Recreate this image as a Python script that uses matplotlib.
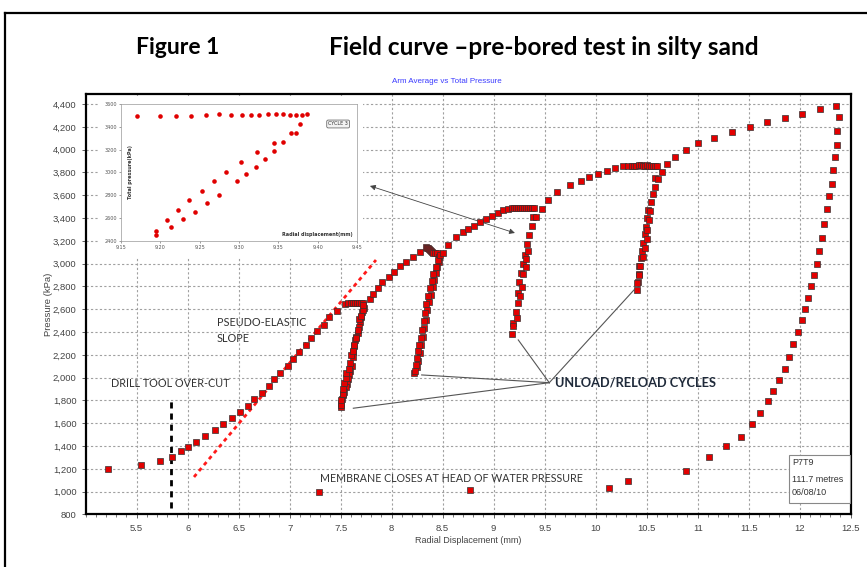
import matplotlib
matplotlib.use('Agg')
import matplotlib.pyplot as plt
import numpy as np
from matplotlib.patches import Rectangle
from matplotlib.lines import Line2D
from matplotlib.ticker import MultipleLocator, FuncFormatter

# ---- main curve: radial displacement (mm) / pressure (kPa) ----
load1_x = [5.22, 5.54, 5.73, 5.85, 5.93, 6.00, 6.08, 6.17, 6.27, 6.35, 6.43, 6.51, 6.59, 6.65,
           6.73, 6.80, 6.85, 6.91, 6.98, 7.03, 7.09, 7.16, 7.21, 7.27, 7.34, 7.39, 7.46, 7.54]
load1_p = [1202, 1232, 1269, 1307, 1354, 1395, 1439, 1486, 1539, 1591, 1644, 1699, 1752, 1813,
           1863, 1927, 1986, 2041, 2103, 2161, 2225, 2289, 2348, 2407, 2465, 2530, 2585, 2646]

cyc1_x = [7.57, 7.60, 7.62, 7.64, 7.66, 7.68, 7.70, 7.72,
          7.728, 7.706, 7.696, 7.689, 7.676, 7.667, 7.650, 7.643, 7.633, 7.624, 7.618, 7.608,
          7.591, 7.584, 7.572, 7.565, 7.549, 7.532, 7.520, 7.513, 7.503, 7.500,
          7.502, 7.508, 7.518, 7.525, 7.534, 7.551, 7.557, 7.577, 7.587, 7.606, 7.616, 7.630,
          7.648, 7.667, 7.683, 7.696, 7.716, 7.722]
cyc1_p = [2652, 2655, 2656, 2657, 2657, 2656, 2655, 2652,
          2609, 2579, 2530, 2491, 2442, 2395, 2360, 2331, 2278, 2228, 2184, 2103,
          2059, 2024, 1986, 1945, 1916, 1877, 1848, 1810, 1775, 1746,
          1760, 1805, 1857, 1898, 1951, 1995, 2039, 2080, 2127, 2200, 2235, 2290,
          2345, 2419, 2512, 2541, 2594, 2638]

load2_x = [7.79, 7.82, 7.87, 7.91, 7.97, 8.02, 8.08, 8.14, 8.21, 8.28, 8.34]
load2_p = [2688, 2734, 2787, 2837, 2881, 2930, 2980, 3012, 3061, 3100, 3144]

cyc2_x = [8.35, 8.36, 8.37, 8.38, 8.39, 8.40, 8.41, 8.42, 8.447, 8.467,
          8.467, 8.445, 8.430, 8.418, 8.405, 8.390, 8.370, 8.345, 8.335, 8.318, 8.310, 8.290,
          8.275, 8.258, 8.245, 8.219,
          8.225, 8.235, 8.250, 8.262, 8.270, 8.285, 8.300, 8.313, 8.322, 8.340, 8.360, 8.380,
          8.395, 8.410, 8.430, 8.450, 8.470, 8.500]
cyc2_p = [3140, 3134, 3128, 3120, 3112, 3104, 3097, 3090, 3091, 3061,
          3018, 2974, 2916, 2857, 2798, 2725, 2667, 2590, 2506, 2433, 2360, 2290,
          2215, 2150, 2096, 2039,
          2060, 2115, 2170, 2230, 2287, 2345, 2420, 2495, 2570, 2650, 2720, 2790,
          2850, 2910, 2970, 3030, 3075, 3097]

load3_x = [8.555, 8.630, 8.695, 8.751, 8.807, 8.866, 8.922, 8.980, 9.039, 9.094, 9.143]
load3_p = [3164, 3232, 3275, 3302, 3333, 3363, 3395, 3418, 3447, 3471, 3478]

cyc3_x = [9.18, 9.20, 9.22, 9.24, 9.26, 9.28, 9.30, 9.32, 9.34, 9.36, 9.38, 9.40,
          9.382, 9.330, 9.307, 9.284, 9.268, 9.251, 9.235, 9.235, 9.219, 9.192, 9.192, 9.176,
          9.225, 9.258, 9.275, 9.290, 9.317, 9.317, 9.339, 9.349, 9.373, 9.415]
cyc3_p = [3484, 3486, 3487, 3488, 3489, 3490, 3490, 3491, 3491, 3492, 3492, 3492,
          3407, 3170, 3076, 2997, 2921, 2842, 2746, 2653, 2579, 2482, 2453, 2383,
          2526, 2717, 2793, 2910, 2974, 3039, 3114, 3252, 3331, 3407]

load4_x = [9.471, 9.535, 9.624, 9.748, 9.853, 9.937, 10.026, 10.108, 10.189, 10.265, 10.32]
load4_p = [3482, 3559, 3629, 3690, 3728, 3763, 3784, 3813, 3842, 3860, 3856]

cyc4_x = [10.36, 10.38, 10.40, 10.42, 10.44, 10.46, 10.48, 10.50, 10.52, 10.54, 10.56, 10.58, 10.60,
          10.581, 10.559, 10.516, 10.506, 10.493, 10.483, 10.461, 10.451, 10.441, 10.427, 10.421,
          10.412, 10.402,
          10.408, 10.421, 10.434, 10.461, 10.483, 10.500, 10.506, 10.526, 10.532, 10.542, 10.581,
          10.608, 10.653]
cyc4_p = [3859, 3860, 3860, 3861, 3861, 3860, 3860, 3861, 3860, 3860, 3859, 3860, 3858,
          3749, 3609, 3471, 3398, 3325, 3258, 3184, 3114, 3047, 2980, 2910,
          2842, 2769,
          2828, 2901, 2980, 3056, 3135, 3217, 3296, 3383, 3465, 3544, 3676,
          3743, 3802]

load5_x = [10.702, 10.777, 10.882, 11.006, 11.163, 11.339, 11.513, 11.683, 11.853, 12.026,
           12.202, 12.356]
load5_p = [3875, 3933, 3997, 4056, 4103, 4155, 4202, 4240, 4278, 4316, 4354, 4386]

unload_x = [12.388, 12.369, 12.363, 12.346, 12.329, 12.314, 12.287, 12.265, 12.241, 12.218,
            12.192, 12.167, 12.143, 12.111, 12.082, 12.055, 12.026, 11.980, 11.937, 11.895,
            11.853, 11.800, 11.741, 11.689, 11.614, 11.529, 11.421, 11.282, 11.114, 10.885,
            10.317, 10.130, 8.768, 7.284]
unload_p = [4287, 4164, 4041, 3933, 3819, 3702, 3596, 3477, 3348, 3225,
            3109, 3000, 2901, 2804, 2702, 2605, 2506, 2398, 2293, 2184,
            2079, 1977, 1886, 1793, 1693, 1591, 1477, 1398, 1302, 1184,
            1094, 1034, 1015, 997]

# pseudo-elastic slope and drill over-cut guide lines
slope_x = [6.062, 7.846]
slope_p = [1129, 3032]
overcut_x = [5.839, 5.839]
overcut_p = [857, 1798]

# ---- inset: cycle 3 detail ----
ins_top_x = [9.170, 9.199, 9.220, 9.239, 9.258, 9.275, 9.290, 9.304, 9.315, 9.326, 9.337,
             9.347, 9.356, 9.365, 9.373, 9.380, 9.387]
ins_top_p = [3494, 3497, 3497, 3497, 3502, 3508, 3505, 3505, 3502, 3502, 3511,
             3508, 3508, 3505, 3505, 3505, 3508]
ins_loop_x = [9.195, 9.195, 9.209, 9.214, 9.222, 9.229, 9.237, 9.244, 9.253, 9.259, 9.268,
              9.274, 9.284, 9.298, 9.302, 9.309, 9.323, 9.321, 9.333, 9.344, 9.344, 9.356,
              9.366, 9.373, 9.378]
ins_loop_p = [2491, 2456, 2583, 2525, 2669, 2591, 2755, 2657, 2841, 2729, 2928,
              2801, 3008, 2922, 3094, 2985, 3178, 3051, 3120, 3192, 3261, 3267,
              3344, 3344, 3425]

yticks = list(range(800, 4401, 200))
xticks = [5.5, 6, 6.5, 7, 7.5, 8, 8.5, 9, 9.5, 10, 10.5, 11, 11.5, 12, 12.5]

fig = plt.figure(figsize=(8.67, 5.67), dpi=100)
ax = fig.add_axes([0.0988, 0.0926, 0.8824, 0.7416])

pt = dict(ls='none', marker='s', ms=3.7, mfc='#e30000', mec='#333333', mew=0.5, zorder=3)
for xs, ps in [(load1_x, load1_p), (cyc1_x, cyc1_p), (load2_x, load2_p), (cyc2_x, cyc2_p),
               (load3_x, load3_p), (cyc3_x, cyc3_p), (load4_x, load4_p), (cyc4_x, cyc4_p),
               (load5_x, load5_p), (unload_x, unload_p)]:
    ax.plot(xs, ps, **pt)

ax.plot(slope_x, slope_p, color='#ff1a1a', lw=2.0, ls=(0, (1.4, 1.4)), zorder=2)
ax.plot(overcut_x, overcut_p, color='black', lw=2.0, ls=(0, (2.2, 1.8)), zorder=2)

ax.set_xlim(5, 12.5)
ax.set_ylim(800, 4488)
ax.set_xticks(xticks)
ax.set_yticks(yticks)
ax.xaxis.set_minor_locator(MultipleLocator(0.1))
ax.xaxis.set_major_formatter(FuncFormatter(lambda v, p: '%g' % v))
ax.yaxis.set_major_formatter(FuncFormatter(lambda v, p: '{:,.0f}'.format(v)))
ax.tick_params(axis='both', labelsize=6.8, colors='#444444', length=3, width=0.6)
ax.tick_params(axis='x', which='minor', length=2, width=0.5, colors='#444444')
for lab in ax.get_xticklabels() + ax.get_yticklabels():
    lab.set_family('Liberation Sans')
ax.grid(True, ls=(0, (2, 2)), color='#a0a0a0', lw=0.8)
for s in ax.spines.values():
    s.set_linewidth(1.6)
    s.set_color('black')

# annotations
lato = 'Lato'
ax.text(6.287, 2480, 'PSEUDO-ELASTIC', fontsize=7.8, color='#333333', family=lato, va='center')
ax.text(6.287, 2348, 'SLOPE', fontsize=7.8, color='#333333', family=lato, va='center')
ax.text(5.248, 1945, 'DRILL TOOL OVER-CUT', fontsize=7.8, color='#333333', family=lato,
        va='center')
ax.text(7.297, 1120, 'MEMBRANE CLOSES AT HEAD OF WATER PRESSURE', fontsize=7.7, color='#333333',
        family=lato, va='center')
ax.text(9.60, 1954, 'UNLOAD/RELOAD CYCLES', fontsize=9.2, color='#1f2a3a', family=lato,
        fontweight='bold', va='center')

hub = (9.545, 1956)
for tx, tp in [(7.624, 1732), (8.294, 2024), (9.241, 2331), (10.375, 2769)]:
    ax.plot([hub[0], tx], [hub[1], tp], color='#555555', lw=0.8, zorder=2)

ax.annotate('', xy=(9.208, 3269), xytext=(7.787, 3682),
            arrowprops=dict(arrowstyle='<|-|>', color='#444444', lw=0.6,
                            mutation_scale=8, shrinkA=0, shrinkB=0), zorder=2)

# info box
ax.add_patch(Rectangle((11.90, 901), 0.59, 421, fc='white', ec='#888888', lw=0.8, zorder=4))
for txt, yp in [('P7T9', 1252), ('111.7 metres', 1111), ('06/08/10', 989)]:
    ax.text(11.925, yp, txt, fontsize=6.5, family='Liberation Sans', color='#333333',
            va='center', zorder=5)

# titles and axis labels
fig.text(0.2047, 0.917, 'Figure 1', ha='center', va='center', fontsize=16.5,
         fontweight='bold', family=lato)
fig.text(0.627, 0.917, 'Field curve \u2013pre-bored test in silty sand', ha='center',
         va='center', fontsize=17.6, fontweight='bold', family=lato)
fig.text(0.5156, 0.8554, 'Arm Average vs Total Pressure', ha='center', va='center',
         fontsize=5.8, color='#3b3bff', family='Liberation Sans')
fig.text(0.0554, 0.4638, 'Pressure (kPa)', rotation=90, ha='center', va='center',
         fontsize=6.8, color='#444444', family='Liberation Sans')
fig.text(0.54, 0.0459, 'Radial Displacement (mm)', ha='center', va='center',
         fontsize=6.5, color='#444444', family='Liberation Sans')

# outer frame
fig.add_artist(Line2D([5 / 867, 5 / 867], [0, 1 - 13 / 567], transform=fig.transFigure,
                      color='black', lw=1.6))
fig.add_artist(Line2D([5 / 867, 1], [1 - 13 / 567, 1 - 13 / 567], transform=fig.transFigure,
                      color='black', lw=1.6))

# inset
bg = Rectangle((98 / 867, (567 - 257) / 567), 265 / 867, 161 / 567,
               transform=fig.transFigure, fc='white', ec='none', zorder=1)
fig.add_artist(bg)
axin = fig.add_axes([0.1396, 0.5750, 0.2722, 0.2416])
axin.set_zorder(2)
axin.plot(ins_top_x, ins_top_p, ls='none', marker='o', ms=3.3, mfc='#e00000', mec='none')
axin.plot(ins_loop_x, ins_loop_p, ls='none', marker='o', ms=3.3, mfc='#e00000', mec='none')
axin.set_xlim(9.15, 9.45)
axin.set_ylim(2400, 3600)
axin.set_xticks(np.arange(9.15, 9.451, 0.05))
axin.set_yticks(range(2400, 3601, 200))
axin.xaxis.set_major_formatter(FuncFormatter(lambda v, p: '%.2f' % v))
axin.tick_params(labelsize=3.5, colors='#555555', length=1.5, width=0.4, pad=1.5)
for s in axin.spines.values():
    s.set_linewidth(0.5)
    s.set_color('#999999')
axin.text(0.04, 0.5, 'Total pressure(kPa)', rotation=90, transform=axin.transAxes,
          fontsize=3.5, fontweight='bold', ha='center', va='center', color='#333333')
axin.text(0.98, 0.05, 'Radial displacement(mm)', transform=axin.transAxes,
          fontsize=3.5, fontweight='bold', ha='right', va='center', color='#333333')
axin.text(0.92, 0.854, 'CYCLE 3', transform=axin.transAxes, fontsize=3.5, ha='center',
          va='center', color='#333333',
          bbox=dict(boxstyle='round,pad=0.3', fc='#f2f2f2', ec='#555555', lw=0.5))

fig.savefig('out.png', dpi=100)
